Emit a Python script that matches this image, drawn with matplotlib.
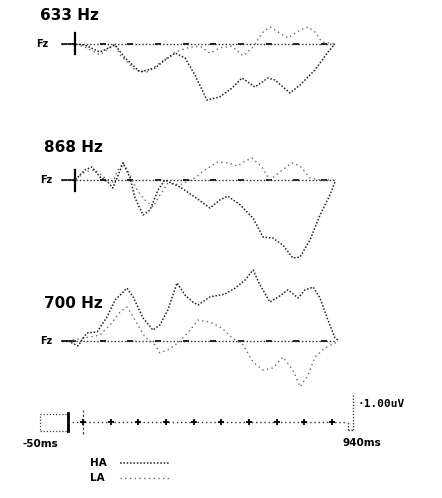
import matplotlib
matplotlib.use("Agg")
import matplotlib.pyplot as plt
from matplotlib.patches import Rectangle

# ---- data (time in ms, amplitude in microvolts) ----
conditions = ["633 Hz", "868 Hz", "700 Hz"]
electrode = "Fz"
group_labels = ["HA", "LA"]

t_633_ha = [-47, 0, 36, 90, 145, 181, 235, 289, 325, 362, 398, 434, 477, 524,
            568, 604, 651, 698, 723, 778, 814, 868, 915, 940]
v_633_ha = [0, 0, -0.03, -0.23, -0.03, -0.4, -0.8, -0.69, -0.46, -0.26, -0.4,
            -0.89, -1.6, -1.51, -1.26, -0.97, -1.23, -0.97, -1.03, -1.4, -1.17,
            -0.74, -0.23, 0]
t_633_la = [-47, 0, 36, 90, 145, 163, 217, 260, 307, 362, 416, 452, 488, 524,
            568, 608, 644, 676, 705, 741, 770, 814, 843, 868, 893, 940]
v_633_la = [0, 0, -0.09, -0.31, 0, -0.31, -0.74, -0.8, -0.54, -0.23, -0.09,
            -0.06, -0.26, -0.11, -0.06, -0.34, -0.09, 0.31, 0.49, 0.31, 0.17,
            0.4, 0.49, 0.34, 0.06, 0]

t_868_ha = [-47, 0, 36, 61, 90, 119, 137, 156, 174, 199, 217, 246, 271, 300,
            325, 380, 434, 488, 524, 553, 597, 644, 680, 716, 752, 788, 814,
            850, 886, 922, 940]
v_868_ha = [0, 0, 0.29, 0.37, 0.09, -0.06, -0.23, 0.14, 0.49, 0.06, -0.51,
            -1.0, -0.86, -0.29, 0, -0.2, -0.49, -0.8, -0.57, -0.46, -0.71,
            -1.09, -1.63, -1.66, -1.86, -2.23, -2.2, -1.71, -1.0, -0.43, -0.06]
t_868_la = [-47, 0, 36, 72, 108, 137, 156, 174, 199, 224, 253, 282, 307, 336,
            380, 434, 470, 514, 553, 586, 615, 640, 676, 705, 741, 785, 814,
            850, 886, 940]
v_868_la = [0, 0, 0.23, 0.29, 0.06, -0.06, 0.29, 0.49, 0.14, -0.29, -0.57,
            -0.77, -0.43, -0.09, -0.14, 0.06, 0.29, 0.51, 0.49, 0.4, 0.54, 0.63,
            0.37, 0, 0.23, 0.49, 0.4, 0.06, 0, 0]

t_700_ha = [-25, 11, 43, 80, 116, 145, 188, 210, 246, 282, 307, 336, 369, 398,
            427, 445, 488, 542, 579, 615, 644, 669, 705, 741, 770, 807, 832,
            861, 886, 915, 940, 955]
v_700_ha = [0, -0.14, 0.23, 0.26, 0.69, 1.17, 1.51, 1.26, 0.66, 0.31, 0.46,
            0.89, 1.66, 1.31, 1.11, 1.03, 1.26, 1.34, 1.51, 1.74, 2.03, 1.6,
            1.11, 1.29, 1.46, 1.23, 1.46, 1.54, 1.23, 0.6, 0.09, 0]
t_700_la = [-25, 36, 90, 127, 163, 188, 217, 253, 289, 307, 343, 380, 416, 445,
            488, 532, 568, 608, 644, 680, 716, 752, 788, 814, 843, 868, 904,
            940, 955]
v_700_la = [0, 0.09, 0.17, 0.46, 0.83, 0.97, 0.6, 0.11, -0.11, -0.34, -0.23, 0,
            0.31, 0.6, 0.54, 0.37, 0.09, -0.11, -0.6, -0.83, -0.77, -0.46,
            -0.83, -1.31, -0.97, -0.46, -0.2, -0.06, 0]

scale_ticks_ms = [0, 100, 200, 300, 400, 500, 600, 700, 800, 900]
time_start_label = "-50ms"
time_end_label = "940ms"
amp_label = "1.00uV"
epoch = (-47, 940)

# ---- layout ----
W, H = 442, 498
PX_PER_MS = 0.2765
PX_PER_UV = 35.0
ONSET_X = 75

fig = plt.figure(figsize=(W / 100, H / 100), dpi=100)
fig.patch.set_facecolor("white")

ha_style = dict(color="#222222", lw=1.1, ls=(0, (1.0, 1.2)))
la_style = dict(color="#6a6a6a", lw=1.0, ls=(0, (1.0, 2.4)))
bold = dict(family="DejaVu Sans", fontweight="bold", color="black")


def panel_axes(baseline_px, top_px, bottom_px, zero_px=ONSET_X):
    ax = fig.add_axes([0, 1 - bottom_px / H, 1, (bottom_px - top_px) / H])
    ax.set_xlim(-zero_px / PX_PER_MS, (W - zero_px) / PX_PER_MS)
    ax.set_ylim(-(bottom_px - baseline_px) / PX_PER_UV,
                (baseline_px - top_px) / PX_PER_UV)
    ax.axis("off")
    return ax


panels = [
    (conditions[0], 44, (t_633_ha, v_633_ha), (t_633_la, v_633_la), True, (40, 15)),
    (conditions[1], 180, (t_868_ha, v_868_ha), (t_868_la, v_868_la), True, (44, 147)),
    (conditions[2], 341, (t_700_ha, v_700_ha), (t_700_la, v_700_la), False, (44, 303)),
]

for name, base, ha, la, cross, title_xy in panels:
    ax = panel_axes(base, base - 120, base + 120)
    # baseline
    ax.plot(epoch, [0, 0], color="#333333", lw=1.0, ls=(0, (1, 1.5)))
    ax.plot([epoch[0], 0], [0, 0], color="black", lw=1.2)
    ax.plot(scale_ticks_ms[1:], [0] * (len(scale_ticks_ms) - 1), ls="none",
            marker="_", ms=4, mew=1.4, color="#222222")
    if cross:
        ax.plot([0, 0], [-0.3, 0.3], color="black", lw=1.6)
    ax.plot(*la, **la_style)
    ax.plot(*ha, **ha_style)

# overlay in pixel coordinates for the text labels
ov = fig.add_axes([0, 0, 1, 1])
ov.set_xlim(0, W)
ov.set_ylim(H, 0)
ov.axis("off")
for name, base, ha, la, cross, (tx, ty) in panels:
    ov.text(tx, ty, name, fontsize=11, ha="left", va="center", **bold)
    ov.text(tx - 4, base, electrode, fontsize=7, ha="left", va="center", **bold)

# ---- time / amplitude scale ----
sc = panel_axes(422, 380, 450, zero_px=83)
sc.add_patch(Rectangle((-155, -0.27), 101, 0.5, fill=False, ec="#444444",
                       lw=0.9, ls=(0, (1, 1.5))))
sc.plot([-54, -54], [-0.27, 0.25], color="black", lw=2.0)
sc.plot([0, 0], [-0.35, 0.35], color="#444444", lw=0.9, ls=(0, (2, 1.5)))
sc.plot([-54, 948], [0, 0], color="#333333", lw=1.0, ls=(0, (1, 2)))
sc.plot(scale_ticks_ms, [0] * len(scale_ticks_ms), ls="none", marker="+",
        ms=5, mew=1.3, color="black")
bar_t = 976
sc.plot([bar_t, bar_t], [-0.23, 0.77], color="#444444", lw=1.0, ls=(0, (1, 1.2)))
sc.plot([bar_t - 18, bar_t], [-0.23, -0.23], color="#444444", lw=1.0, ls=(0, (1, 1.2)))
sc.plot([bar_t - 18, bar_t - 18], [-0.23, 0.0], color="#444444", lw=1.0, ls=(0, (1, 1.2)))

ov.text(358, 404, "\u00b7" + amp_label, fontsize=8, ha="left", va="center",
        family="DejaVu Sans Mono", fontweight="bold")
ov.text(40, 444, time_start_label, fontsize=7.5, ha="center", va="center", **bold)
ov.text(362, 443, time_end_label, fontsize=7.5, ha="center", va="center", **bold)

# ---- legend ----
for label, style, y in [(group_labels[0], ha_style, 463), (group_labels[1], la_style, 478)]:
    ov.text(90, y, label, fontsize=7.5, ha="left", va="center", **bold)
    ov.plot([120, 170], [y, y], **style)

fig.savefig("out.png", dpi=100, facecolor="white")
